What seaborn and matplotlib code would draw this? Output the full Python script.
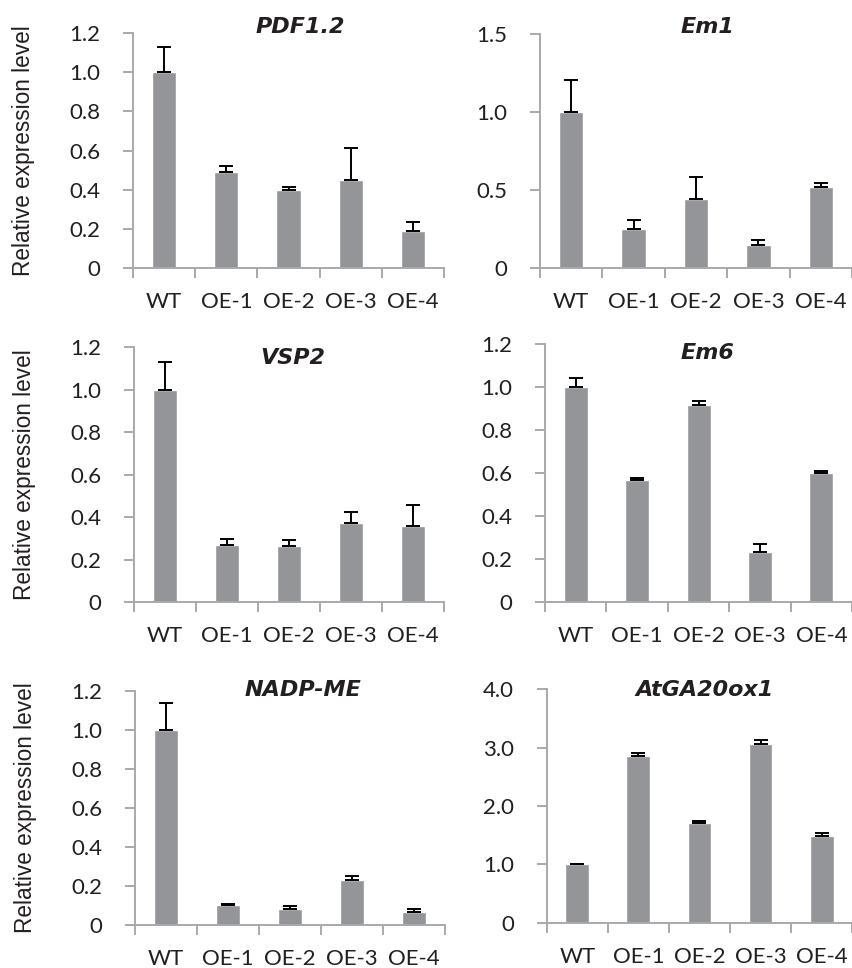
import numpy as np
import pandas as pd
import matplotlib
matplotlib.use("Agg")
import matplotlib.pyplot as plt
import seaborn as sns
from matplotlib.ticker import FixedLocator, FuncFormatter

categories = ["WT", "OE-1", "OE-2", "OE-3", "OE-4"]

genes = ["PDF1.2", "Em1", "VSP2", "Em6", "NADP-ME", "AtGA20ox1"]

pdf12_mean = [1.00, 0.49, 0.40, 0.45, 0.19]
pdf12_err = [0.13, 0.03, 0.013, 0.165, 0.046]
em1_mean = [1.00, 0.25, 0.44, 0.145, 0.52]
em1_err = [0.205, 0.058, 0.143, 0.032, 0.024]
vsp2_mean = [1.00, 0.27, 0.265, 0.37, 0.36]
vsp2_err = [0.13, 0.027, 0.025, 0.055, 0.099]
em6_mean = [1.00, 0.566, 0.915, 0.233, 0.60]
em6_err = [0.044, 0.012, 0.018, 0.038, 0.009]
nadpme_mean = [1.00, 0.101, 0.084, 0.232, 0.068]
nadpme_err = [0.137, 0.008, 0.013, 0.021, 0.012]
ga20ox1_mean = [1.00, 2.86, 1.715, 3.066, 1.493]
ga20ox1_err = [0.006, 0.046, 0.034, 0.068, 0.04]

means = [pdf12_mean, em1_mean, vsp2_mean, em6_mean, nadpme_mean, ga20ox1_mean]
errs = [pdf12_err, em1_err, vsp2_err, em6_err, nadpme_err, ga20ox1_err]

y_max = [1.2, 1.5, 1.2, 1.2, 1.2, 4.0]
y_step = [0.2, 0.5, 0.2, 0.2, 0.2, 1.0]

ylabel = "Relative expression level"

sns.set_theme(style="white")
plt.rcParams["font.family"] = ["Lato", "DejaVu Sans"]

BAR = "#939598"
SPINE = "#a7a9ac"
TXT = "#231f20"
FS = 16

fig = plt.figure(figsize=(8.53, 9.68), dpi=100)

# axes rectangles [left, bottom, width, height] in figure fraction
rects = [
    [0.156, 0.7231, 0.3646, 0.2428],
    [0.633, 0.7231, 0.366, 0.2418],
    [0.157, 0.378, 0.3634, 0.2635],
    [0.639, 0.378, 0.360, 0.2666],
    [0.158, 0.0444, 0.3634, 0.2418],
    [0.641, 0.0465, 0.358, 0.2417],
]
title_pos = [(0.537, 1.026), (0.537, 1.03), (0.513, 0.957),
             (0.529, 0.965), (0.542, 1.004), (0.516, 0.996)]

for i, gene in enumerate(genes):
    ax = fig.add_axes(rects[i])
    df = pd.DataFrame({"line": categories, "value": means[i]})
    sns.barplot(data=df, x="line", y="value", color=BAR, width=0.39,
                saturation=1, errorbar=None, ax=ax, zorder=2)
    x = np.arange(len(categories))
    ax.errorbar(x, means[i], yerr=[np.zeros(len(x)), errs[i]], fmt="none",
                ecolor="black", elinewidth=1.4, capsize=4.8, capthick=1.4,
                zorder=3)
    ax.set_xlim(-0.5, len(categories) - 0.5)
    ax.set_ylim(0, y_max[i])
    ticks = np.round(np.arange(0, y_max[i] + 1e-9, y_step[i]), 2)
    ax.yaxis.set_major_locator(FixedLocator(ticks))
    ax.yaxis.set_major_formatter(FuncFormatter(lambda v, p: "0" if abs(v) < 1e-9 else f"{v:.1f}"))
    ax.set_xlabel("")
    ax.set_ylabel("")
    for s in ["top", "right"]:
        ax.spines[s].set_visible(False)
    for s in ["left", "bottom"]:
        ax.spines[s].set_color(SPINE)
        ax.spines[s].set_linewidth(1.4)
    ax.xaxis.set_minor_locator(FixedLocator(np.arange(-0.5, len(categories), 1.0)))
    ax.tick_params(axis="x", which="major", length=0, pad=17.5, labelsize=FS, labelcolor=TXT)
    ax.tick_params(axis="x", which="minor", length=7, width=1.4, color=SPINE, direction="out", bottom=True)
    ax.tick_params(axis="y", which="major", length=7, width=1.4, color=SPINE, direction="out",
                   left=True, pad=16.5, labelsize=FS, labelcolor=TXT)
    ax.text(title_pos[i][0], title_pos[i][1], gene, transform=ax.transAxes,
            ha="center", va="center", fontsize=16, fontweight="bold", fontstyle="italic",
            family=["DejaVu Sans"], color=TXT)
    if i % 2 == 0:
        ax.set_ylabel(ylabel, fontsize=16.3, family=["Liberation Sans", "DejaVu Sans"],
                      color=TXT)
        ax.yaxis.set_label_coords(-0.315, 0.5)
    ax.set_facecolor("white")

fig.savefig("out.png", dpi=100, facecolor="white")
